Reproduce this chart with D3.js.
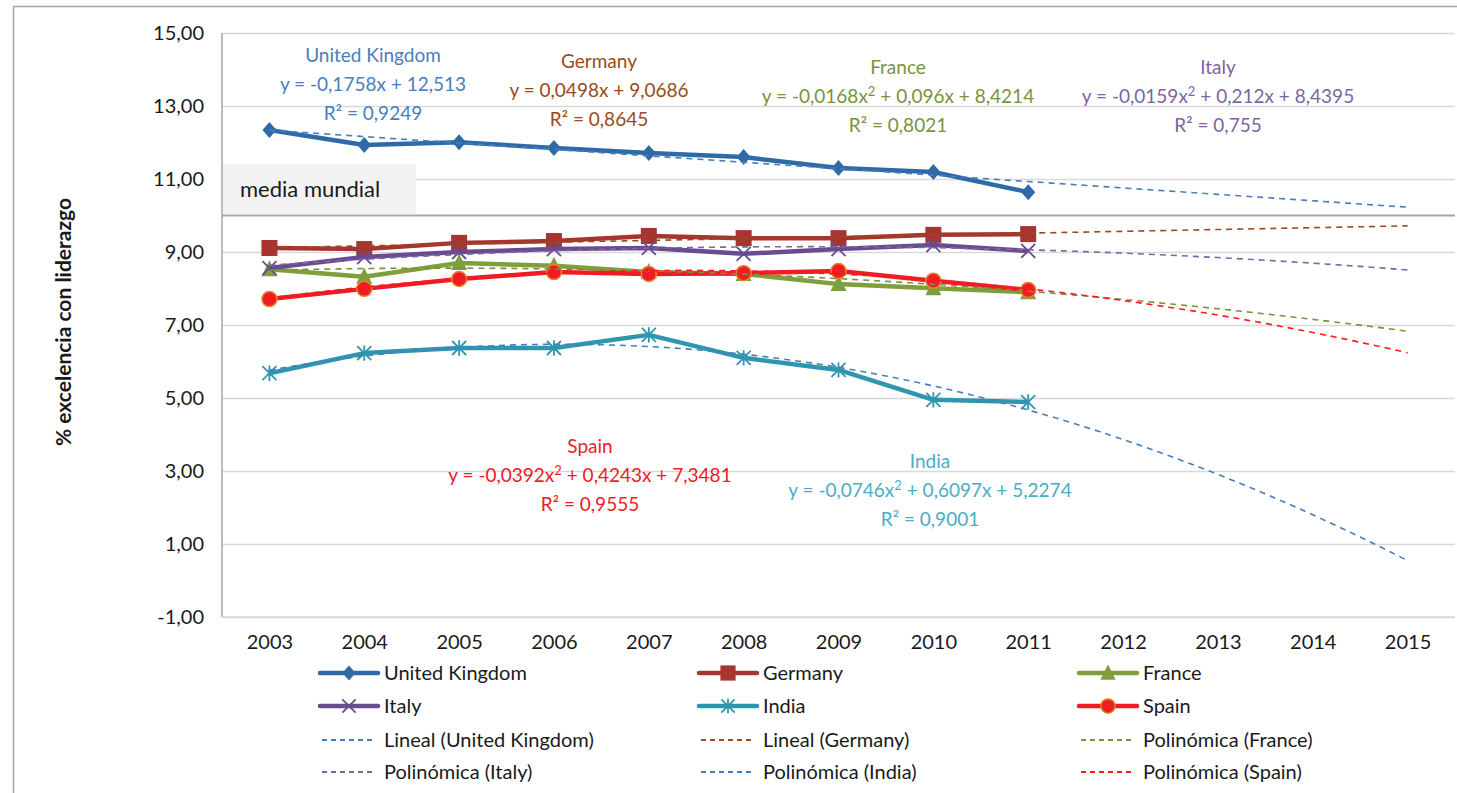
<!DOCTYPE html>
<html>
<head>
<meta charset="utf-8">
<script src="https://cdn.jsdelivr.net/npm/d3@7"></script>
<style>
  html, body { margin: 0; padding: 0; background: #fff; }
  svg { display: block; font-family: Lato, "Open Sans", sans-serif; }
</style>
</head>
<body>
<svg id="chart" width="1457" height="793"></svg>
<script>
// Categories (years) and observed series
const years = ["2003","2004","2005","2006","2007","2008","2009","2010","2011","2012","2013","2014","2015"];
const yTicks = [15, 13, 11, 9, 7, 5, 3, 1, -1];
const worldMean = 10;

const ukValues      = [12.34, 11.93, 12.01, 11.85, 11.71, 11.60, 11.30, 11.19, 10.64];
const germanyValues = [9.11, 9.08, 9.25, 9.30, 9.44, 9.38, 9.38, 9.47, 9.49];
const franceValues  = [8.53, 8.32, 8.70, 8.62, 8.45, 8.40, 8.12, 8.01, 7.90];
const italyValues   = [8.56, 8.86, 9.00, 9.08, 9.11, 8.95, 9.08, 9.19, 9.03];
const indiaValues   = [5.68, 6.23, 6.37, 6.37, 6.73, 6.10, 5.77, 4.95, 4.89];
const spainValues   = [7.71, 7.99, 8.26, 8.45, 8.40, 8.42, 8.48, 8.21, 7.96];

// Trendline coefficients [x², x, constant]
const ukTrend      = [0, -0.1758, 12.513];
const germanyTrend = [0, 0.0498, 9.0686];
const franceTrend  = [-0.0168, 0.096, 8.4214];
const italyTrend   = [-0.0159, 0.212, 8.4395];
const indiaTrend   = [-0.0746, 0.6097, 5.2274];
const spainTrend   = [-0.0392, 0.4243, 7.3481];

const seriesNames = ["United Kingdom","Germany","France","Italy","India","Spain"];
const trendNames = ["Lineal (United Kingdom)","Lineal (Germany)","Polinómica (France)",
                    "Polinómica (Italy)","Polinómica (India)","Polinómica (Spain)"];

const series = [
  {name: seriesNames[0], values: ukValues,      color: "#2e6aa8", marker: "diamond"},
  {name: seriesNames[1], values: germanyValues, color: "#a6352f", marker: "square"},
  {name: seriesNames[2], values: franceValues,  color: "#7e9f3c", marker: "triangle"},
  {name: seriesNames[3], values: italyValues,   color: "#684b91", marker: "x"},
  {name: seriesNames[4], values: indiaValues,   color: "#2f96b0", marker: "asterisk"},
  {name: seriesNames[5], values: spainValues,   color: "#ee1c24", marker: "circle"}
];
const trends = [
  {name: trendNames[0], coef: ukTrend,      color: "#4a7ebb"},
  {name: trendNames[1], coef: germanyTrend, color: "#9a4a1c"},
  {name: trendNames[2], coef: franceTrend,  color: "#77933c"},
  {name: trendNames[3], coef: italyTrend,   color: "#8064a2"},
  {name: trendNames[4], coef: indiaTrend,   color: "#4a7ebb"},
  {name: trendNames[5], coef: spainTrend,   color: "#ff1a1a"}
];

// Equation labels
const annotations = [
  {lines: ["United Kingdom", ["y = -0,1758x + 12,513"], "R² = 0,9249"], color: "#4a7ebb", x: 373, y: 56},
  {lines: ["Germany", ["y = 0,0498x + 9,0686"], "R² = 0,8645"], color: "#9a4a1c", x: 599, y: 62},
  {lines: ["France", ["y = -0,0168x", "2", " + 0,096x + 8,4214"], "R² = 0,8021"], color: "#77933c", x: 898, y: 68},
  {lines: ["Italy", ["y = -0,0159x", "2", " + 0,212x + 8,4395"], "R² = 0,755"], color: "#8064a2", x: 1218, y: 68},
  {lines: ["Spain", ["y = -0,0392x", "2", " + 0,4243x + 7,3481"], "R² = 0,9555"], color: "#ee1c24", x: 590, y: 447},
  {lines: ["India", ["y = -0,0746x", "2", " + 0,6097x + 5,2274"], "R² = 0,9001"], color: "#4bacc6", x: 930, y: 462}
];

const svg = d3.select("#chart");
const plot = {left: 222, right: 1455, top: 33, bottom: 617};

const x = d3.scalePoint().domain(years).range([plot.left, plot.right]).padding(0.5);
const y = d3.scaleLinear().domain([-1, 15]).range([plot.bottom, plot.top]);
const xt = d3.scaleLinear().domain([1, years.length]).range([x(years[0]), x(years[years.length - 1])]);

// Chart frame
svg.append("rect").attr("x", 13.5).attr("y", 6.5).attr("width", 1470).attr("height", 820)
  .attr("fill", "none").attr("stroke", "#a6a6a6").attr("stroke-width", 1.5);

// Gridlines and value labels
const yAxis = d3.axisLeft(y).tickValues(yTicks).tickSize(-(plot.right - plot.left))
  .tickFormat(d => d3.format(".2f")(d).replace(".", ",").replace("\u2212", "-"));
const gy = svg.append("g").attr("transform", `translate(${plot.left},0)`).call(yAxis);
gy.select(".domain").remove();
gy.selectAll(".tick line").attr("stroke", "#d9d9d9").attr("stroke-width", 1.5);
gy.selectAll(".tick text").attr("x", -18).attr("font-size", 20).attr("fill", "#1a1a1a")
  .attr("font-family", "Lato, sans-serif");

// Axis lines
svg.append("line").attr("x1", plot.left).attr("x2", plot.left).attr("y1", plot.top).attr("y2", plot.bottom)
  .attr("stroke", "#a6a6a6").attr("stroke-width", 1.5);
svg.append("line").attr("x1", plot.left).attr("x2", plot.right).attr("y1", plot.bottom).attr("y2", plot.bottom)
  .attr("stroke", "#d9d9d9").attr("stroke-width", 1.5);

// X axis labels
const xAxis = d3.axisBottom(x).tickSize(0).tickPadding(0);
const gx = svg.append("g").attr("transform", `translate(0,${plot.bottom})`).call(xAxis);
gx.select(".domain").remove();
gx.selectAll(".tick text").attr("y", 32).attr("dy", "0").attr("font-size", 20).attr("fill", "#1a1a1a")
  .attr("font-family", "Lato, sans-serif");

// World mean reference line and its label box
svg.append("line").attr("x1", plot.left).attr("x2", plot.right).attr("y1", y(worldMean)).attr("y2", y(worldMean))
  .attr("stroke", "#a6a6a6").attr("stroke-width", 2);
svg.append("rect").attr("x", plot.left + 1).attr("y", 164).attr("width", 193).attr("height", 50)
  .attr("fill", "#f2f2f2");
svg.append("text").attr("x", 240).attr("y", 197).attr("font-size", 22).attr("fill", "#1a1a1a")
  .text("media mundial");

// Y title
svg.append("text").attr("transform", "translate(71,322) rotate(-90)").attr("text-anchor", "middle")
  .attr("font-size", 21).attr("font-weight", "bold").attr("fill", "#1a1a1a")
  .text("% excelencia con liderazgo");

// Marker drawing
function drawMarker(g, type, color, cx, cy, scale = 1) {
  const s = scale;
  if (type === "diamond") {
    g.append("path").attr("d", `M${cx},${cy - 8 * s}L${cx + 7 * s},${cy}L${cx},${cy + 8 * s}L${cx - 7 * s},${cy}Z`).attr("fill", color);
  } else if (type === "square") {
    g.append("rect").attr("x", cx - 8 * s).attr("y", cy - 8 * s).attr("width", 16 * s).attr("height", 16 * s).attr("fill", color);
  } else if (type === "triangle") {
    g.append("path").attr("d", `M${cx},${cy - 9 * s}L${cx + 8 * s},${cy + 7 * s}L${cx - 8 * s},${cy + 7 * s}Z`).attr("fill", color);
  } else if (type === "x") {
    const r = 7 * s;
    g.append("path").attr("d", `M${cx - r},${cy - r}L${cx + r},${cy + r}M${cx - r},${cy + r}L${cx + r},${cy - r}`)
      .attr("stroke", color).attr("stroke-width", 1.8).attr("fill", "none");
  } else if (type === "asterisk") {
    const r = 7 * s;
    g.append("path").attr("d", `M${cx - r},${cy - r}L${cx + r},${cy + r}M${cx - r},${cy + r}L${cx + r},${cy - r}M${cx},${cy - r * 1.1}L${cx},${cy + r * 1.1}`)
      .attr("stroke", color).attr("stroke-width", 1.8).attr("fill", "none");
  } else if (type === "circle") {
    g.append("circle").attr("cx", cx).attr("cy", cy).attr("r", 7.5 * s).attr("fill", color)
      .attr("stroke", "#e8832a").attr("stroke-width", 1.5);
  }
}

// Series lines with markers
const line = d3.line().x((d, i) => x(years[i])).y(d => y(d));
series.forEach(sr => {
  const g = svg.append("g");
  g.append("path").attr("d", line(sr.values)).attr("fill", "none").attr("stroke", sr.color)
    .attr("stroke-width", 4.5).attr("stroke-linejoin", "round");
  sr.values.forEach((v, i) => drawMarker(g, sr.marker, sr.color, x(years[i]), y(v)));
});

// Trendlines from the fitted equations
const trendLine = d3.line().x(d => xt(d[0])).y(d => y(d[1]));
trends.forEach(tr => {
  const pts = d3.range(1, years.length + 0.001, 0.25).map(t => [t, tr.coef[0] * t * t + tr.coef[1] * t + tr.coef[2]]);
  svg.append("path").attr("d", trendLine(pts)).attr("fill", "none").attr("stroke", tr.color)
    .attr("stroke-width", 1.6).attr("stroke-dasharray", "6,5");
});

// Equation annotations
annotations.forEach(a => {
  const t = svg.append("g").attr("fill", a.color).attr("font-size", 19).attr("text-anchor", "middle");
  t.append("text").attr("x", a.x).attr("y", a.y + 6).text(a.lines[0]);
  const eq = t.append("text").attr("x", a.x).attr("y", a.y + 35);
  a.lines[1].forEach((part, i) => {
    const ts = eq.append("tspan").text(part);
    if (i === 1) ts.attr("font-size", 13).attr("dy", -7);
    if (i === 2) ts.attr("dy", 7);
  });
  t.append("text").attr("x", a.x).attr("y", a.y + 64).text(a.lines[2]);
});

// Legend
const legCols = [320, 699, 1079];
const legRows = [673, 706, 740, 772];
const legend = svg.append("g").attr("font-size", 20).attr("fill", "#1a1a1a");
series.forEach((sr, i) => {
  const lx = legCols[i % 3], ly = legRows[Math.floor(i / 3)];
  const g = legend.append("g");
  g.append("line").attr("x1", lx).attr("x2", lx + 58).attr("y1", ly).attr("y2", ly)
    .attr("stroke", sr.color).attr("stroke-width", 4.5).attr("stroke-linecap", "round");
  drawMarker(g, sr.marker, sr.color, lx + 29, ly, 0.95);
  g.append("text").attr("x", lx + 64).attr("y", ly + 7).text(sr.name);
});
trends.forEach((tr, i) => {
  const lx = legCols[i % 3], ly = legRows[2 + Math.floor(i / 3)];
  const g = legend.append("g");
  g.append("line").attr("x1", lx + 2).attr("x2", lx + 56).attr("y1", ly).attr("y2", ly)
    .attr("stroke", tr.color).attr("stroke-width", 1.8).attr("stroke-dasharray", "5,4");
  g.append("text").attr("x", lx + 64).attr("y", ly + 7).text(tr.name);
});
</script>
</body>
</html>
